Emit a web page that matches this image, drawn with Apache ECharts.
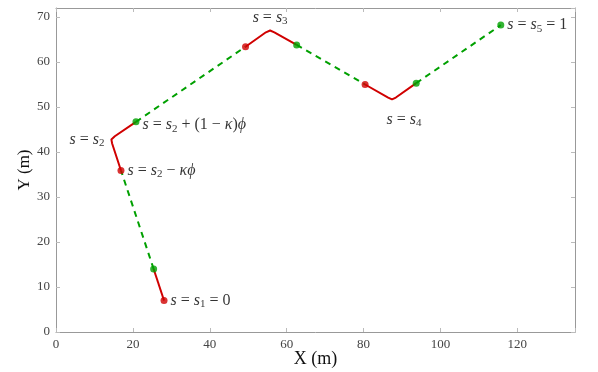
<!DOCTYPE html>
<html>
<head>
<meta charset="utf-8">
<script src="https://cdn.jsdelivr.net/npm/echarts@6/dist/echarts.min.js"></script>
<style>
html, body { margin: 0; padding: 0; background: #fff; }
#path { width: 598px; height: 372px; }
</style>
</head>
<body>
<div id="path"></div>
<script>
// path pieces (X m, Y m)
var redSeg1 = [[28.1, 7.0], [25.4, 14.0]];
var greenSeg1 = [[25.4, 14.0], [16.9, 35.9]];
var redSeg2 = [[16.9, 35.9], [14.6, 41.9], [14.4, 42.8], [15.3, 43.5], [20.8, 46.7]];
var greenSeg2 = [[20.8, 46.7], [49.3, 63.4]];
var redSeg3 = [[49.3, 63.4], [54.6, 66.6], [55.7, 67.0], [56.8, 66.6], [62.6, 63.8]];
var greenSeg3 = [[62.6, 63.8], [80.4, 55.0]];
var redSeg4 = [[80.4, 55.0], [86.4, 52.1], [87.4, 51.7], [88.4, 52.1], [93.7, 55.3]];
var greenSeg4 = [[93.7, 55.3], [115.7, 68.2]];

var redPoints = [[28.1, 7.0], [16.9, 35.9], [49.3, 63.4], [80.4, 55.0]];
var greenPoints = [[25.4, 14.0], [20.8, 46.7], [62.6, 63.8], [93.7, 55.3], [115.7, 68.2]];

// annotations: anchor point, text, side
var notePos = [[28.1, 7.0], [16.9, 35.9], [14.3, 42.8], [20.8, 46.7], [55.7, 67.2], [87.4, 51.7], [115.7, 68.2]];
var noteText = [
    '{i|s} = {i|s}{sub|1} = 0',
    '{i|s} = {i|s}{sub|2} − {i|κϕ}',
    '{i|s} = {i|s}{sub|2}',
    '{i|s} = {i|s}{sub|2} + (1 − {i|κ}){i|ϕ}',
    '{i|s} = {i|s}{sub|3}',
    '{i|s} = {i|s}{sub|4}',
    '{i|s} = {i|s}{sub|5} = 1'
];
var noteSide = ['right', 'right', 'left', 'right', 'top', 'bottom', 'right'];

var xTicks = [0, 20, 40, 60, 80, 100, 120];

var RED = '#d00000', GREEN = '#00a000';
var serif = 'Liberation Serif';

function segment(data, color, dashed) {
    return {
        type: 'line',
        data: data,
        symbol: 'none',
        z: 2,
        lineStyle: { color: color, width: 2, type: dashed ? [6, 5] : 'solid' }
    };
}

var notes = [];
for (var i = 0; i < notePos.length; i++) {
    var off = [0, 0];
    if (i == 3) off = [0, 3];
    if (i == 4) off = [0, 4];
    if (i == 5) off = [12, 4];
    notes.push({
        value: notePos[i],
        label: { show: true, position: noteSide[i], formatter: noteText[i], distance: 6, offset: off }
    });
}

var richStyle = {
    i: { fontFamily: serif, fontStyle: 'italic', fontSize: 16, color: '#000' },
    sub: { fontFamily: serif, fontSize: 11, color: '#000', padding: [8, 0, 0, 0] }
};

var axisCommon = {
    type: 'value',
    axisLine: { show: true, onZero: false, lineStyle: { color: '#999', width: 1 } },
    axisTick: { show: true, inside: true, length: 4, lineStyle: { color: '#bbb' } },
    splitLine: { show: false }
};

var chart = echarts.init(document.getElementById('path'));
var option = {
    animation: false,
    grid: { left: 56, right: 23, top: 8, bottom: 40, containLabel: false, outerBoundsMode: 'none' },
    xAxis: [
        Object.assign({}, axisCommon, {
            min: 0, max: 135, interval: 20,
            name: 'X (m)', nameLocation: 'middle', nameGap: 18, nameMoveOverlap: false,
            nameTextStyle: { fontFamily: serif, fontSize: 18, color: '#111' },
            axisLabel: {
                fontFamily: serif, fontSize: 13, color: '#444', margin: 6,
                formatter: function (v) { return xTicks.indexOf(v) >= 0 ? v : ''; }
            }
        }),
        Object.assign({}, axisCommon, {
            min: 0, max: 135, interval: 20, position: 'top',
            axisLabel: { show: false }
        })
    ],
    yAxis: [
        Object.assign({}, axisCommon, {
            min: 0, max: 72, interval: 10,
            name: 'Y (m)', nameLocation: 'middle', nameGap: 23, nameMoveOverlap: false,
            nameTextStyle: { fontFamily: serif, fontSize: 17, color: '#111' },
            axisLabel: { fontFamily: serif, fontSize: 13, color: '#444', margin: 6 }
        }),
        Object.assign({}, axisCommon, {
            min: 0, max: 72, interval: 10, position: 'right',
            axisLabel: { show: false }
        })
    ],
    series: [
        segment(redSeg1, RED, false),
        segment(greenSeg1, GREEN, true),
        segment(redSeg2, RED, false),
        segment(greenSeg2, GREEN, true),
        segment(redSeg3, RED, false),
        segment(greenSeg3, GREEN, true),
        segment(redSeg4, RED, false),
        segment(greenSeg4, GREEN, true),
        {
            type: 'scatter', data: redPoints, symbolSize: 7, z: 3,
            itemStyle: { color: RED }
        },
        {
            type: 'scatter', data: greenPoints, symbolSize: 7, z: 3,
            itemStyle: { color: GREEN }
        },
        {
            type: 'scatter', data: notes, symbolSize: 1, z: 4, silent: true,
            itemStyle: { color: 'rgba(0,0,0,0)' },
            label: {
                fontFamily: serif, fontSize: 16, color: '#000',
                rich: richStyle
            }
        }
    ]
};
chart.setOption(option);
</script>
</body>
</html>
